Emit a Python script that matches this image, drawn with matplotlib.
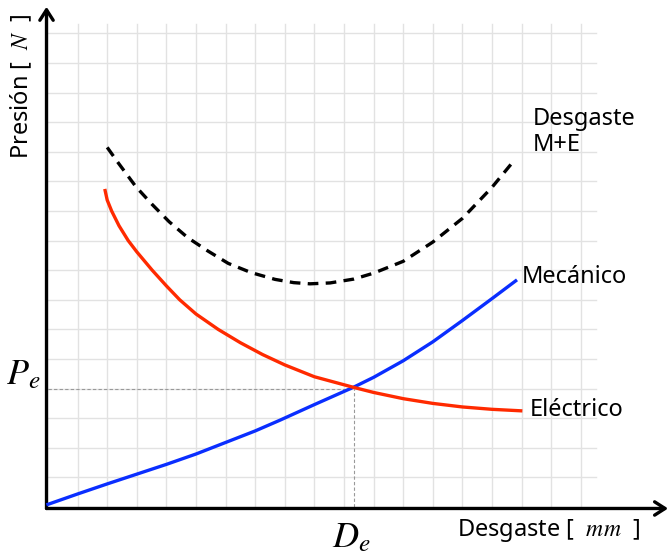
"""Curvas de desgaste: mecánico, eléctrico y combinado"""

import matplotlib.pyplot as plt

plt.rcParams['mathtext.fontset'] = 'stix'
plt.rcParams['font.family'] = ['Noto Sans', 'DejaVu Sans']

# curvas (unidades de cuadrícula)
mec_x = [0, 1, 2, 3, 4, 5, 6, 7, 7.83, 9, 10.33, 11, 12, 13, 14, 15, 15.8]
mec_y = [0.09, 0.44, 0.78, 1.11, 1.44, 1.79, 2.18, 2.57, 2.93, 3.46, 4.05, 4.38, 4.94, 5.58, 6.30, 7.04, 7.64]

ele_x = [1.93, 2.0, 2.15, 2.4, 2.71, 3.0, 3.52, 4.0, 4.45, 5.0, 5.75, 6.5, 7.25, 8.0, 9.0,
         10.33, 11, 12, 13, 14, 15, 15.97]
ele_y = [10.69, 10.37, 10.0, 9.5, 9.0, 8.62, 8.0, 7.47, 7.0, 6.52, 6.0, 5.55, 5.15, 4.80, 4.40,
         4.04, 3.87, 3.66, 3.50, 3.38, 3.30, 3.25]

tot_x = [2.0, 2.37, 2.97, 3.52, 4.09, 4.72, 5.40, 6.09, 6.86, 7.67, 8.3, 8.85, 9.53, 10.33,
         11, 12, 13, 14, 15, 15.70]
tot_y = [12.15, 11.63, 10.82, 10.22, 9.64, 9.10, 8.65, 8.23, 7.92, 7.69, 7.58, 7.54, 7.57, 7.70,
         7.90, 8.30, 8.95, 9.75, 10.80, 11.65]

De, Pe = 10.33, 4.0

cell = 29.6  # px por cuadro
fig = plt.figure(figsize=(6.68, 5.59), dpi=100)
ax = fig.add_axes([0, 0, 1, 1])
ax.set_xlim(-48 / cell, (668 - 48) / cell)
ax.set_ylim(-(559 - 507) / cell, 507 / cell)
ax.axis('off')

# cuadrícula
grid_c = '#e2e2e2'
for i in range(1, 19):
    ax.plot([i, i], [0, 16.33], color=grid_c, lw=1, zorder=0)
for j in range(1, 17):
    ax.plot([0, 18.5], [j, j], color=grid_c, lw=1, zorder=0)

# ejes con flecha
arrow = dict(arrowstyle='->, head_length=0.5, head_width=0.32', lw=2.4,
             color='black', mutation_scale=15, shrinkA=0, shrinkB=0)
ax.annotate('', xy=(-0.05, 16.9), xytext=(-0.05, -0.05), arrowprops=arrow)
ax.annotate('', xy=(20.95, -0.05), xytext=(-0.05, -0.05), arrowprops=arrow)

# líneas de equilibrio
ax.plot([0, De], [Pe, Pe], color='#999999', lw=0.8, dashes=(3, 2), zorder=1)
ax.plot([De, De], [0, Pe], color='#999999', lw=0.8, dashes=(3, 2), zorder=1)

ax.plot(mec_x, mec_y, color='#0a2eff', lw=2.4, solid_joinstyle='round', zorder=3)
ax.plot(ele_x, ele_y, color='#ff2a00', lw=2.4, solid_joinstyle='round', zorder=3)
ax.plot(tot_x, tot_y, color='black', lw=2.4, dashes=(3.2, 2.2), zorder=3)

fs = 17
ax.text(16.0, 7.56, 'Mecánico', fontsize=fs, va='baseline', ha='left')
ax.text(16.28, 3.07, 'Eléctrico', fontsize=fs, va='baseline', ha='left')
ax.text(16.39, 12.9, 'Desgaste', fontsize=fs, va='baseline', ha='left')
ax.text(16.39, 12.04, 'M+E', fontsize=fs, va='baseline', ha='left')

ax.text(-0.88, 14.22, 'Presión [  $N$  ]', fontsize=fs, rotation=90, ha='center', va='center')
ax.text(16.91, -0.78, 'Desgaste [  $mm$  ]', fontsize=fs, ha='center', va='center')

ax.text(-0.83, 4.15, '$P_e$', fontsize=26, ha='center', va='baseline')
ax.text(10.24, -1.36, '$D_e$', fontsize=26, ha='center', va='baseline')

fig.savefig('out.png', dpi=100)
